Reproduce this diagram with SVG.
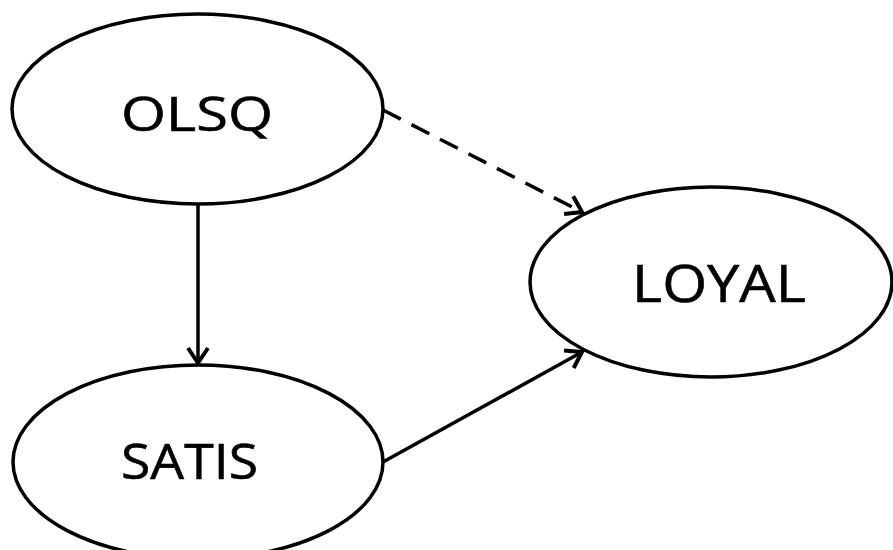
<svg xmlns="http://www.w3.org/2000/svg" width="893" height="550" viewBox="0 0 893 550">
<defs>
<style>
.node ellipse{fill:#fff;stroke:#000;stroke-width:3.5}
.node text{font-family:"Open Sans","Liberation Sans",sans-serif;fill:#000;stroke:#000;stroke-width:0.6}
.edge{stroke:#000;stroke-width:3.5;fill:none}
.dash{stroke-dasharray:20 12}
</style>
<marker id="arr" markerUnits="userSpaceOnUse" markerWidth="30" markerHeight="30" viewBox="-20 -15 25 30" refX="0" refY="0" orient="auto">
<path d="M-15,-10 L0,0 L-15,10" fill="none" stroke="#000" stroke-width="4"/>
</marker>
</defs>
<rect width="893" height="550" fill="#fff"/>
<g id="connectors">
<line class="edge" x1="198" y1="204" x2="198" y2="363" marker-end="url(#arr)"/>
<line class="edge dash" x1="383" y1="110" x2="582" y2="212" marker-end="url(#arr)"/>
<line class="edge" x1="383" y1="462" x2="582" y2="352" marker-end="url(#arr)"/>
</g>
<g id="OLSQ" class="node">
<ellipse cx="197.5" cy="109" rx="185.5" ry="95"/>
<text x="121" y="131" font-size="47" textLength="152" lengthAdjust="spacingAndGlyphs">OLSQ</text>
</g>
<g id="SATIS" class="node">
<ellipse cx="198" cy="462" rx="185" ry="97"/>
<text x="121" y="479" font-size="50" textLength="137" lengthAdjust="spacingAndGlyphs">SATIS</text>
</g>
<g id="LOYAL" class="node">
<ellipse cx="711" cy="282" rx="181" ry="95"/>
<text x="632" y="302" font-size="52" textLength="174" lengthAdjust="spacingAndGlyphs">LOYAL</text>
</g>
</svg>
